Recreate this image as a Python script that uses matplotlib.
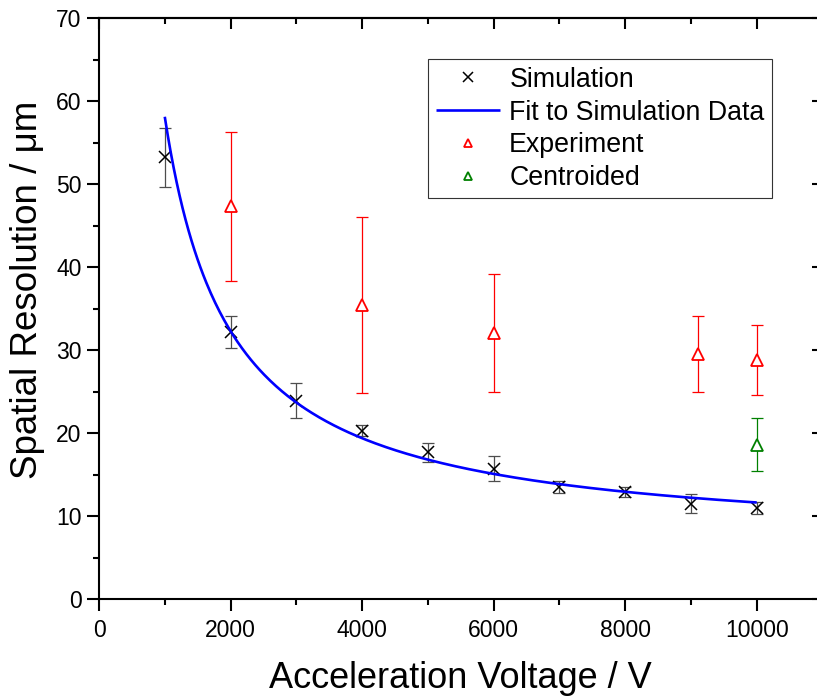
import numpy as np
import matplotlib
matplotlib.use('Agg')
import matplotlib.pyplot as plt
from matplotlib.ticker import MultipleLocator, NullFormatter

plt.rcParams['font.family'] = ['Liberation Sans', 'DejaVu Sans']

# ---- data ----
sim_v = [1000, 2000, 3000, 4000, 5000, 6000, 7000, 8000, 9000, 10000]
sim_y = [53.2, 32.2, 23.9, 20.3, 17.7, 15.7, 13.5, 12.9, 11.5, 11.0]
sim_err = [3.6, 1.9, 2.1, 0.7, 1.15, 1.5, 0.75, 0.65, 1.1, 0.7]

exp_v = [2000, 4000, 6000, 9100, 10000]
exp_y = [47.3, 35.4, 32.0, 29.5, 28.8]
exp_err = [9.0, 10.6, 7.1, 4.55, 4.25]

cent_v = [10000]
cent_y = [18.6]
cent_err = [3.2]

xticks = [0, 2000, 4000, 6000, 8000, 10000]
yticks = [0, 10, 20, 30, 40, 50, 60, 70]

# "Fit to Simulation Data": weighted least-squares fit y = a/V + c of the simulation points
sv = np.array(sim_v, float)
coef = np.polyfit(1.0 / sv, np.array(sim_y), 1, w=1.0 / np.array(sim_err))
fit_v = np.linspace(sv.min(), sv.max(), 400)
fit_y = np.polyval(coef, 1.0 / fit_v)

W, H = 817, 698
fig = plt.figure(figsize=(W / 100, H / 100), dpi=100)
left, right, bottom, top = 99, 822.5, 599, 18
ax = fig.add_axes([left / W, 1 - bottom / H, (right - left) / W, (bottom - top) / H])

# error bars
ax.errorbar(sim_v, sim_y, yerr=sim_err, fmt='none', ecolor='#4d4d4d',
            elinewidth=0.9, capsize=4.4, capthick=0.9, zorder=2)
ax.errorbar(exp_v, exp_y, yerr=exp_err, fmt='none', ecolor='#ff0000',
            elinewidth=0.9, capsize=4.4, capthick=0.9, zorder=2)
ax.errorbar(cent_v, cent_y, yerr=cent_err, fmt='none', ecolor='#008000',
            elinewidth=0.9, capsize=4.4, capthick=0.9, zorder=2)

# markers and fit
ax.plot(sim_v, sim_y, linestyle='none', marker='x', ms=8.5, mew=1.1,
        color='black', label='Simulation', zorder=3)
ax.plot(fit_v, fit_y, color='#0000ff', lw=1.9, label='Fit to Simulation Data',
        zorder=4, solid_capstyle='butt')
ax.plot(exp_v, exp_y, linestyle='none', marker='^', ms=8, mew=1.3,
        mec='#ff0000', mfc='white', label='Experiment', zorder=3)
ax.plot(cent_v, cent_y, linestyle='none', marker='^', ms=8, mew=1.3,
        mec='#008000', mfc='white', label='Centroided', zorder=3)

ax.set_xlim(0, 11000)
ax.set_ylim(0, 70)

ax.set_xticks(xticks)
ax.set_yticks(yticks)
ax.xaxis.set_minor_locator(MultipleLocator(1000))
ax.yaxis.set_minor_locator(MultipleLocator(5))

for s in ax.spines.values():
    s.set_linewidth(1.5)
ax.spines['right'].set_visible(False)

ax.tick_params(axis='both', which='major', direction='out', length=8.5,
               width=1.5, labelsize=16.5, pad=4)
ax.tick_params(axis='both', which='minor', direction='out', length=4.5,
               width=1.5)
ax.tick_params(axis='x', pad=6)

# top / right ticks pointing inward
secx = ax.secondary_xaxis('top')
secx.set_xticks(xticks)
secx.xaxis.set_minor_locator(MultipleLocator(1000))
secx.xaxis.set_major_formatter(NullFormatter())
secx.tick_params(which='major', direction='in', length=8, width=1.5)
secx.tick_params(which='minor', direction='in', length=4.5, width=1.5)
secx.spines['top'].set_linewidth(1.5)

secy = ax.secondary_yaxis('right')
secy.set_yticks(yticks)
secy.yaxis.set_minor_locator(MultipleLocator(5))
secy.yaxis.set_major_formatter(NullFormatter())
secy.tick_params(which='major', direction='in', length=8, width=1.5)
secy.tick_params(which='minor', direction='in', length=4.5, width=1.5)
secy.spines['right'].set_visible(False)

ax.set_xlabel('Acceleration Voltage / V', fontsize=26)
ax.set_ylabel('Spatial Resolution / \u03bcm', fontsize=26.5)
ax.xaxis.set_label_coords(0.5, -0.106)
ax.yaxis.set_label_coords(-0.074, 0.532)

leg = ax.legend(loc='upper right', bbox_to_anchor=(772 / W, 1 - 59.3 / H),
                bbox_transform=fig.transFigure, borderaxespad=0,
                fontsize=19.3, frameon=True, fancybox=False, framealpha=1,
                edgecolor='#333333', handlelength=2.4, handletextpad=0.35,
                labelspacing=0.25, borderpad=0.28, markerscale=0.8)
leg.get_frame().set_linewidth(0.8)

fig.savefig('out.png', dpi=100)
